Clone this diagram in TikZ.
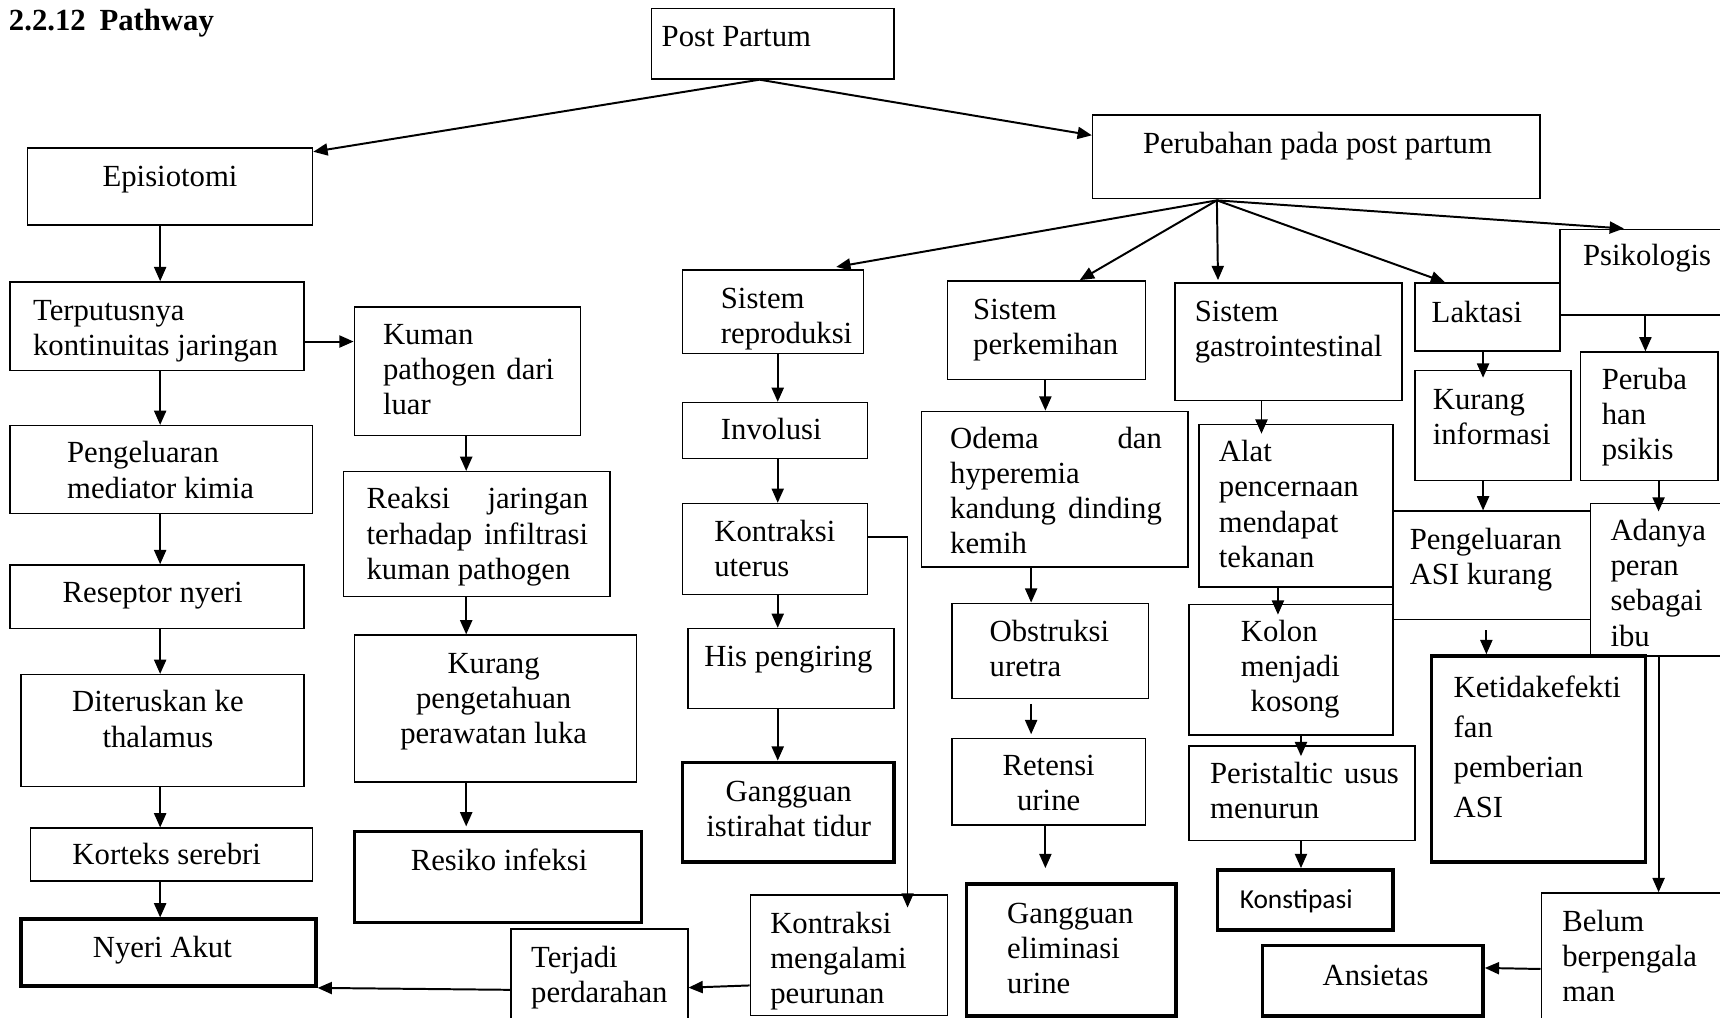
\documentclass[tikz,border=0pt]{standalone}
\usepackage{fontspec}
\setmainfont{Liberation Serif}
\newfontfamily\calfont{Carlito}
\usetikzlibrary{arrows.meta,calc,fit}
\begin{document}
\begin{tikzpicture}[x=1pt,y=-1pt,
  box/.style={draw, line width=1.3pt, inner sep=0pt},
  tbox/.style={draw, line width=3.2pt, inner sep=0pt},
  arr/.style={line width=1.8pt, -{Triangle[length=13pt,width=11pt]}},
  txt/.style={inner sep=0pt, anchor=base west, font=\fontsize{28}{32}\selectfont},
  ctxt/.style={inner sep=0pt, anchor=base, font=\fontsize{28}{32}\selectfont}]
\useasboundingbox (0,0) rectangle (1568,928);
\clip (0,0) rectangle (1568,928);
% ---------- boxes ----------
\node[box, fit={(594,8)(815,72)}] (pp) {};
\node[box, fit={(25,135)(285,205)}] (epi) {};
\node[box, fit={(996,105)(1404,181)}] (per) {};
\node[box, fit={(9,257)(277,338)}] (terp) {};
\node[box, fit={(323,280)(529,397)}] (kuman) {};
\node[box, fit={(9,388)(285,468)}] (peng) {};
\node[box, fit={(313,430)(556,544)}] (reaksi) {};
\node[box, fit={(9,515)(277,573)}] (resep) {};
\node[box, fit={(323,579)(580,713)}] (kurpeng) {};
\node[box, fit={(19,615)(277,717)}] (diter) {};
\node[box, fit={(28,755)(285,803)}] (kortek) {};
\node[tbox, fit={(323,758)(585,841)}] (resiko) {};
\node[tbox, fit={(19,838)(288,899)}] (nyeri) {};
\node[box, fit={(466,847)(627,945)}] (terjadi) {};
\node[box, fit={(622,246)(787,322)}] (repro) {};
\node[box, fit={(622,367)(791,418)}] (invol) {};
\node[box, fit={(622,459)(791,542)}] (kontu) {};
\node[box, fit={(627,573)(815,646)}] (his) {};
\node[tbox, fit={(622,695)(815,786)}] (gist) {};
\node[box, fit={(684,816)(864,926)}] (kmp) {};
\node[box, fit={(864,256)(1044,346)}] (perk) {};
\node[box, fit={(840,375)(1083,517)}] (odema) {};
\node[box, fit={(868,550)(1047,637)}] (obst) {};
\node[box, fit={(868,673)(1044,752)}] (ret) {};
\node[tbox, fit={(881,806)(1072,926)}] (gelim) {};
\node[box, fit={(1071,258)(1278,365)}] (gastro) {};
\node[box, fit={(1093,387)(1270,535)}] (alat) {};
\node[box, fit={(1084,551)(1270,670)}] (kolon) {};
\node[box, fit={(1084,680)(1290,766)}] (peris) {};
\node[tbox, fit={(1110,793)(1270,848)}] (konst) {};
\node[tbox, fit={(1151,862)(1352,926)}] (ans) {};
\node[box, fit={(1290,258)(1422,320)}] (lak) {};
\node[box, fit={(1422,209)(1590,287)}] (psi) {};
\node[box, fit={(1290,338)(1432,438)}] (kinf) {};
\node[box, fit={(1441,321)(1566,438)}] (psikis) {};
\node[box, fit={(1270,466)(1450,565)}] (pasi) {};
\node[box, fit={(1450,459)(1590,598)}] (adanya) {};
\node[tbox, fit={(1305,598)(1500,786)}] (ketid) {};
\node[box, fit={(1405,814)(1590,945)}] (belum) {};
% ---------- column guides ----------
\coordinate (cL) at (146,0);
\coordinate (cK) at (425,0);
\coordinate (cR) at (709,0);
\coordinate (cP1) at (953,0);
\coordinate (cP2) at (940,0);
\coordinate (cG1) at (1150,0);
\coordinate (cG2) at (1165,0);
\coordinate (cG3) at (1186,0);
\coordinate (cA) at (1352,0);
\coordinate (cA2) at (1355,0);
\coordinate (cS1) at (1500,0);
\coordinate (cS2) at (1512,0);
\coordinate (hubPP) at ($(pp.south west)+(99,0)$);
\coordinate (hubPer) at ($(per.south west)+(114,1)$);
% ---------- connectors ----------
\draw[arr] (hubPP) -- ($(epi.north east)+(0,4)$);
\draw[arr] (hubPP) -- ($(per.north west)+(0,19)$);
\draw[arr] (hubPer) -- ($(repro.north west)+(141,-2)$);
\draw[arr] (hubPer) -- ($(perk.north west)+(121,0)$);
\draw[arr] (hubPer) -- ($(gastro.north west)+(40,-2)$);
\draw[arr] (hubPer) -- ($(lak.north west)+(28,0)$);
\draw[arr] (hubPer) -- ($(psi.north west)+(59,0)$);
% left column
\draw[arr] (epi.south -| cL) -- (terp.north -| cL);
\draw[arr] (terp.south -| cL) -- (peng.north -| cL);
\draw[arr] (peng.south -| cL) -- (resep.north -| cL);
\draw[arr] (resep.south -| cL) -- (diter.north -| cL);
\draw[arr] (diter.south -| cL) -- (kortek.north -| cL);
\draw[arr] (kortek.south -| cL) -- (nyeri.north -| cL);
\draw[arr] ($(terp.north east)+(0,55)$) -- ($(kuman.north west)+(0,32)$);
\draw[arr] (kuman.south -| cK) -- (reaksi.north -| cK);
\draw[arr] (reaksi.south -| cK) -- (kurpeng.north -| cK);
\draw[arr] (kurpeng.south -| cK) -- ($(resiko.north -| cK)+(0,-3)$);
\draw[arr] ($(terjadi.north west)+(0,56)$) -- (nyeri.south east);
\draw[arr] ($(kmp.north west)+(0,83)$) -- ($(terjadi.north east)+(0,54)$);
% reproduksi column
\draw[arr] (repro.south -| cR) -- (invol.north -| cR);
\draw[arr] (invol.south -| cR) -- (kontu.north -| cR);
\draw[arr] (kontu.south -| cR) -- (his.north -| cR);
\draw[arr] (his.south -| cR) -- (gist.north -| cR);
\draw[arr, line width=1.5pt] ($(kontu.north east)+(0,31)$) -| ($(kmp.north west)+(144,12)$);
% perkemihan column
\draw[arr] (perk.south -| cP1) -- (odema.north -| cP1);
\draw[arr] (odema.south -| cP2) -- (obst.north -| cP2);
\draw[arr] ($(obst.south -| cP2)+(0,4)$) -- ($(ret.north -| cP2)+(0,-3)$);
\draw[arr] (ret.south -| cP1) -- ($(gelim.north -| cP1)+(0,-13)$);
% gastro column
\draw[arr] (gastro.south -| cG1) -- ($(alat.north -| cG1)+(0,9)$);
\draw[arr] (alat.south -| cG2) -- ($(kolon.north -| cG2)+(0,10)$);
\draw[arr] (kolon.south -| cG3) -- ($(peris.north -| cG3)+(0,10)$);
\draw[arr] (peris.south -| cG3) -- (konst.north -| cG3);
% laktasi / psikologis
\draw[arr] (lak.south -| cA) -- ($(kinf.north -| cA)+(0,7)$);
\draw[arr] (kinf.south -| cA) -- (pasi.north -| cA);
\draw[arr] ($(pasi.south -| cA2)+(0,9)$) -- (ketid.north -| cA2);
\draw[arr] (psi.south -| cS1) -- (psikis.north -| cS1);
\draw[arr] (psikis.south -| cS2) -- ($(adanya.north -| cS2)+(0,8)$);
\draw[arr] (adanya.south -| cS2) -- (belum.north -| cS2);
\draw[arr] ($(belum.north west)+(0,70)$) -- ($(ans.north east)+(0,22)$);
% ---------- texts ----------
\node[txt, font=\fontsize{28}{32}\selectfont\bfseries] (title) at (8,28) {2.2.12\hspace{0.45em}Pathway};
\node[txt] (t-pp) at (603,42) {Post Partum};
\node[ctxt] (t-epi) at (155,170) {Episiotomi};
\node[ctxt] (t-per) at (1201,140) {Perubahan pada post partum};
\node[txt] (t-terp) at (30,292) {\parbox[t]{240pt}{Terputusnya\\kontinuitas jaringan}};
\node[txt] (t-kuman) at (349,314) {\parbox[t]{156pt}{Kuman\\pathogen\hfill dari\\luar}};
\node[txt] (t-peng) at (61,422) {\parbox[t]{220pt}{Pengeluaran\\mediator kimia}};
\node[txt] (t-reaksi) at (334,464) {\parbox[t]{202pt}{Reaksi\hfill jaringan\\terhadap\hfill infiltrasi\\kuman pathogen}};
\node[txt] (t-resep) at (57,549) {Reseptor nyeri};
\node[ctxt] (t-kurpeng) at (450,614) {\parbox[t]{240pt}{\centering Kurang\\pengetahuan\\perawatan luka}};
\node[ctxt] (t-diter) at (144,649) {\parbox[t]{240pt}{\centering Diteruskan ke\\thalamus}};
\node[ctxt] (t-kortek) at (152,788) {Korteks serebri};
\node[ctxt] (t-resiko) at (455,794) {Resiko infeksi};
\node[ctxt] (t-nyeri) at (148,873) {Nyeri Akut};
\node[txt] (t-terjadi) at (484,882) {\parbox[t]{150pt}{Terjadi\\perdarahan}};
\node[txt] (t-repro) at (657,281) {\parbox[t]{150pt}{Sistem\\reproduksi}};
\node[txt] (t-invol) at (657,401) {Involusi};
\node[txt] (t-kontu) at (651,494) {\parbox[t]{150pt}{Kontraksi\\uterus}};
\node[txt] (t-his) at (642,608) {His pengiring};
\node[ctxt] (t-gist) at (719,731) {\parbox[t]{190pt}{\centering Gangguan\\istirahat tidur}};
\node[txt] (t-kmp) at (702,851) {\parbox[t]{160pt}{Kontraksi\\mengalami\\peurunan}};
\node[txt] (t-perk) at (887,291) {\parbox[t]{160pt}{Sistem\\perkemihan}};
\node[txt] (t-odema) at (866,409) {\parbox[t]{193pt}{Odema\hfill dan\\hyperemia\\kandung\hfill dinding\\kemih}};
\node[txt] (t-obst) at (902,585) {\parbox[t]{140pt}{Obstruksi\\uretra}};
\node[ctxt] (t-ret) at (956,707) {\parbox[t]{160pt}{\centering Retensi\\urine}};
\node[txt] (t-gelim) at (918,842) {\parbox[t]{150pt}{Gangguan\\eliminasi\\urine}};
\node[txt] (t-gastro) at (1089,293) {\parbox[t]{185pt}{Sistem\\gastrointestinal}};
\node[txt] (t-alat) at (1111,421) {\parbox[t]{155pt}{Alat\\pencernaan\\mendapat\\tekanan}};
\node[txt] (t-kolon) at (1131,585) {\parbox[t]{135pt}{Kolon\\menjadi\\\hspace*{9pt}kosong}};
\node[txt] (t-peris) at (1103,714) {\parbox[t]{172pt}{Peristaltic\hfill usus\\menurun}};
\node[txt, font=\fontsize{25}{30}\calfont] (t-konst) at (1130,828) {Konstipasi};
\node[ctxt] (t-ans) at (1254,898) {Ansietas};
\node[txt] (t-lak) at (1305,294) {Laktasi};
\node[txt] (t-psi) at (1443,242) {Psikologis};
\node[txt] (t-kinf) at (1306,373) {\parbox[t]{120pt}{Kurang\\informasi}};
\node[txt] (t-psikis) at (1460,355) {\parbox[t]{100pt}{Peruba\\han\\psikis}};
\node[txt] (t-pasi) at (1285,501) {\parbox[t]{160pt}{Pengeluaran\\ASI kurang}};
\node[txt] (t-adanya) at (1468,493) {\parbox[t]{100pt}{Adanya\\peran\\sebagai\\ibu}};
\node[txt, font=\fontsize{28}{36.5}\selectfont] (t-ketid) at (1325,636) {\parbox[t]{170pt}{Ketidakefekti\\fan\\pemberian\\ASI}};
\node[txt] (t-belum) at (1424,849) {\parbox[t]{150pt}{Belum\\berpengala\\man}};
\end{tikzpicture}
\end{document}
